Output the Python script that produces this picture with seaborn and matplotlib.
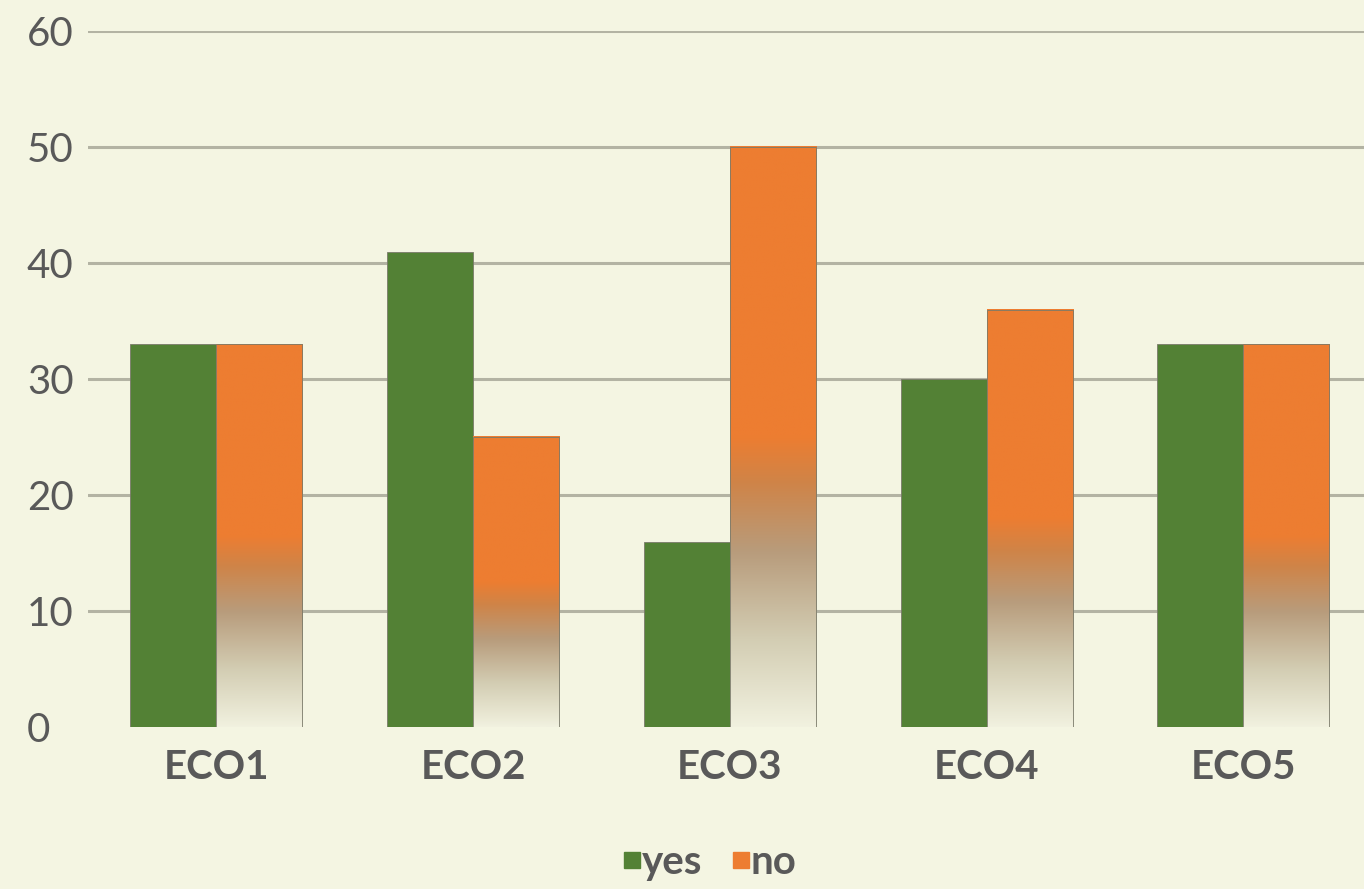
import matplotlib
matplotlib.use('Agg')
import matplotlib.pyplot as plt
import numpy as np
import pandas as pd
import seaborn as sns
from matplotlib.colors import LinearSegmentedColormap
from matplotlib.lines import Line2D

categories = ['ECO1', 'ECO2', 'ECO3', 'ECO4', 'ECO5']
yes_vals = [33, 41, 16, 30, 33]
no_vals = [33, 25, 50, 36, 33]
series = ['yes', 'no']
yticks = [0, 10, 20, 30, 40, 50, 60]

bg = '#f4f5e2'
green = '#538135'
orange = '#ed7d31'
text_col = '#595959'

df = pd.DataFrame({
    'cat': categories * 2,
    'val': yes_vals + no_vals,
    'series': ['yes'] * len(categories) + ['no'] * len(categories),
})

sns.set_style('white')
plt.rcParams['font.family'] = ['Lato', 'DejaVu Sans']

fig = plt.figure(figsize=(13.64, 8.89), dpi=100, facecolor=bg)
ax = fig.add_axes([0.0645, 0.182, 0.9355, 0.783])
ax.set_facecolor(bg)

sns.barplot(data=df, x='cat', y='val', hue='series', hue_order=series,
            palette=[green, orange], saturation=1, width=0.67, gap=0,
            edgecolor='#7a7a6a', linewidth=0.6, legend=False, ax=ax, zorder=3)

# gradient on the orange bars: solid in the upper half, fading to the background at the bottom
grad = LinearSegmentedColormap.from_list('fade', [
    (0.0, '#f1f1df'),
    (0.15, '#d3cdb3'),
    (0.3, '#b89c7c'),
    (0.42, '#cf8448'),
    (0.5, orange),
    (1.0, orange),
])
g = np.linspace(0, 1, 256).reshape(-1, 1)
for p in ax.containers[1].patches:
    x0, w, h = p.get_x(), p.get_width(), p.get_height()
    ax.imshow(g, cmap=grad, extent=[x0, x0 + w, 0, h], origin='lower',
              aspect='auto', zorder=3, interpolation='bilinear')
    p.set_facecolor('none')
    p.set_zorder(4)

ax.set_xlim(-0.5, 4.47)
ax.set_ylim(0, 60)
ax.set_yticks(yticks)
ax.set_xlabel('')
ax.set_ylabel('')

ax.grid(axis='y', color='#b3b3a3', linewidth=2.2, zorder=0)
ax.set_axisbelow(True)
ax.get_ygridlines()[0].set_visible(False)
for s in ax.spines.values():
    s.set_visible(False)

ax.tick_params(axis='y', length=0, pad=44, labelsize=29, labelcolor=text_col)
for lab in ax.get_yticklabels():
    lab.set_horizontalalignment('left')
ax.tick_params(axis='x', length=0, pad=16, labelsize=29, labelcolor=text_col)
for lab in ax.get_xticklabels():
    lab.set_fontweight('bold')

handles = [Line2D([], [], marker='s', linestyle='', color=green, markersize=11),
           Line2D([], [], marker='s', linestyle='', color=orange, markersize=11)]
leg = fig.legend(handles, series, loc='center', bbox_to_anchor=(0.52, 0.03),
                 ncol=2, frameon=False, handletextpad=0.0, columnspacing=0.7,
                 handlelength=0.5, prop={'size': 29, 'weight': 'bold'})
for t in leg.get_texts():
    t.set_color(text_col)

fig.savefig('out.png', dpi=100, facecolor=bg)
